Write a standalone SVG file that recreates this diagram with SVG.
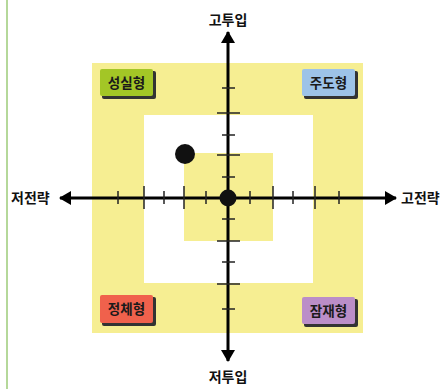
<svg xmlns="http://www.w3.org/2000/svg" width="442" height="389" viewBox="0 0 442 389">
<style>
.lbl{font-family:"Noto Sans CJK KR","Noto Sans",sans-serif;font-weight:bold;font-size:13.5px;fill:#1a1a1a;text-anchor:middle}
.ax{font-family:"Noto Sans CJK KR","Noto Sans",sans-serif;font-weight:bold;font-size:14px;fill:#111}
.yel{fill:#f6ee92}
.tick{stroke:#222;stroke-width:1.5}
.axis{stroke:#000;stroke-width:3}
.shadow{fill:#333}
</style>
<defs>
<marker id="ah" viewBox="0 0 12 14" refX="11" refY="7" markerWidth="12" markerHeight="14" markerUnits="userSpaceOnUse" orient="auto">
<path d="M0,0 L12,7 L0,14 Z" fill="#000"/>
</marker>
</defs>
<rect width="442" height="389" fill="#fff"/>
<line x1="7" y1="0" x2="7" y2="389" stroke="#b5d89a" stroke-width="2"/>
<g id="background">
<rect class="yel" x="92" y="63" width="271" height="270"/>
<rect fill="#fff" x="144" y="115" width="169" height="168"/>
<rect class="yel" x="184" y="153" width="89" height="88"/>
</g>
<g id="connectors">
<line class="axis" x1="228" y1="198" x2="228" y2="32" marker-end="url(#ah)"/>
<line class="axis" x1="228" y1="198" x2="228" y2="361" marker-end="url(#ah)"/>
<line class="axis" x1="228" y1="198" x2="60" y2="198" marker-end="url(#ah)"/>
<line class="axis" x1="228" y1="198" x2="396" y2="198" marker-end="url(#ah)"/>
<g id="ticks-h">
<line class="tick" x1="118" y1="191" x2="118" y2="204"/>
<line class="tick" x1="144" y1="186" x2="144" y2="209"/>
<line class="tick" x1="164" y1="191" x2="164" y2="204"/>
<line class="tick" x1="184" y1="186" x2="184" y2="209"/>
<line class="tick" x1="206" y1="191" x2="206" y2="204"/>
<line class="tick" x1="250" y1="191" x2="250" y2="204"/>
<line class="tick" x1="273" y1="186" x2="273" y2="209"/>
<line class="tick" x1="293" y1="191" x2="293" y2="204"/>
<line class="tick" x1="315" y1="186" x2="315" y2="209"/>
<line class="tick" x1="339" y1="191" x2="339" y2="204"/>
</g>
<g id="ticks-v">
<line class="tick" x1="222" y1="88" x2="235" y2="88"/>
<line class="tick" x1="217" y1="113" x2="240" y2="113"/>
<line class="tick" x1="222" y1="135" x2="235" y2="135"/>
<line class="tick" x1="217" y1="155" x2="240" y2="155"/>
<line class="tick" x1="222" y1="177" x2="235" y2="177"/>
<line class="tick" x1="222" y1="219" x2="235" y2="219"/>
<line class="tick" x1="217" y1="241" x2="240" y2="241"/>
<line class="tick" x1="222" y1="262" x2="235" y2="262"/>
<line class="tick" x1="217" y1="284" x2="240" y2="284"/>
<line class="tick" x1="222" y1="309" x2="235" y2="309"/>
</g>
</g>
<g id="dot-point"><circle cx="185" cy="154" r="10" fill="#111"/></g>
<g id="dot-center"><circle cx="228" cy="198" r="8.5" fill="#111"/></g>
<g id="label-top"><text class="ax" x="228" y="25" text-anchor="middle">고투입</text></g>
<g id="label-bottom"><text class="ax" x="228" y="382" text-anchor="middle">저투입</text></g>
<g id="label-left"><text class="ax" x="11" y="203">저전략</text></g>
<g id="label-right"><text class="ax" x="401" y="203">고전략</text></g>
<g id="q-seongsil">
<rect class="shadow" x="102" y="71" width="54" height="28" rx="2"/>
<rect x="100" y="69" width="53" height="27" rx="2" fill="#a3c626"/>
<text class="lbl" x="126.5" y="87.5">성실형</text>
</g>
<g id="q-judo">
<rect class="shadow" x="304" y="71" width="54" height="28" rx="2"/>
<rect x="302" y="69" width="53" height="27" rx="2" fill="#9dc3e8"/>
<text class="lbl" x="328.5" y="87.5">주도형</text>
</g>
<g id="q-jeongche">
<rect class="shadow" x="102" y="297" width="54" height="29" rx="2"/>
<rect x="100" y="295" width="53" height="28" rx="2" fill="#f0614c"/>
<text class="lbl" x="126.5" y="314">정체형</text>
</g>
<g id="q-jamjae">
<rect class="shadow" x="304" y="299" width="54" height="28" rx="2"/>
<rect x="302" y="297" width="53" height="27" rx="2" fill="#bb8ec8"/>
<text class="lbl" x="328.5" y="315.5">잠재형</text>
</g>
</svg>
